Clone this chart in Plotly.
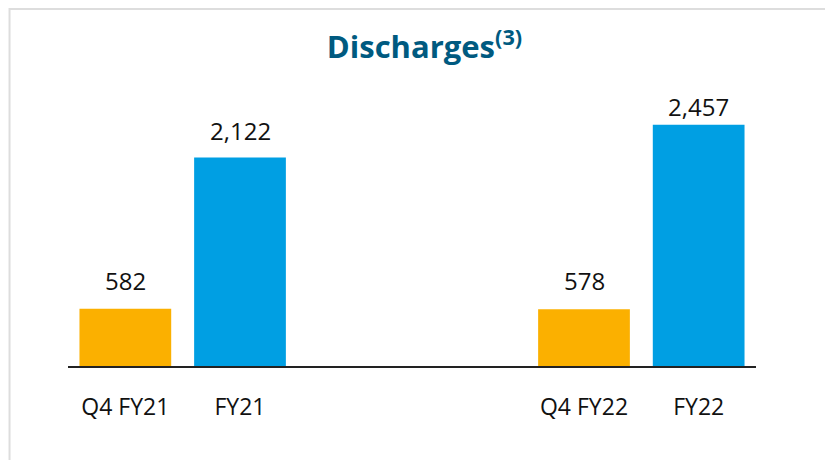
import plotly.graph_objects as go

# chart data
categories = ["Q4 FY21", "FY21", "Q4 FY22", "FY22"]
discharges = [582, 2122, 578, 2457]
bar_colors = ["#FBB000", "#009FE3", "#FBB000", "#009FE3"]
label_gap = [10, 9, 10, 0]   # px between bar top and its value label

# two blank slots keep the year pairs apart
slot_order = ["Q4 FY21", "FY21", " ", "  ", "Q4 FY22", "FY22"]

fig = go.Figure(go.Bar(
    x=categories,
    y=discharges,
    marker=dict(color=bar_colors, line=dict(width=0)),
    hoverinfo="x+y",
))

for cat, val, gap in zip(categories, discharges, label_gap):
    fig.add_annotation(
        x=cat, y=val, text=f"{val:,}",
        showarrow=False, yanchor="bottom", yshift=gap,
        font=dict(size=24, color="#111111"),
    )

fig.update_layout(
    width=833,
    height=460,
    paper_bgcolor="white",
    plot_bgcolor="white",
    font=dict(family="Open Sans, Noto Sans, sans-serif", color="#111111"),
    title=dict(
        text="<b>Discharges<sup>(3)</sup></b>",
        x=0.5, xanchor="center",
        y=0.915, yanchor="middle",
        font=dict(size=31, color="#005A80"),
    ),
    margin=dict(l=60, r=85, t=83, b=102),
    bargap=0.2,
    showlegend=False,
    xaxis=dict(
        type="category",
        categoryorder="array",
        categoryarray=slot_order,
        range=[-0.5, 5.5],
        tickmode="array",
        tickvals=categories,
        ticktext=categories,
        showline=True,
        linecolor="#222222",
        linewidth=2,
        showgrid=False,
        ticks="",
        ticklabelstandoff=19,
        tickfont=dict(size=23, color="#111111"),
    ),
    yaxis=dict(
        range=[0, 2800],
        visible=False,
        showgrid=False,
        zeroline=False,
    ),
    shapes=[dict(
        type="rect",
        xref="paper", yref="paper",
        x0=-0.085, x1=1.2,
        y0=-0.5, y1=1.298,
        line=dict(color="#DDDDDD", width=2),
        fillcolor="rgba(0,0,0,0)",
        layer="below",
    )],
)

fig.write_html("out.html")
